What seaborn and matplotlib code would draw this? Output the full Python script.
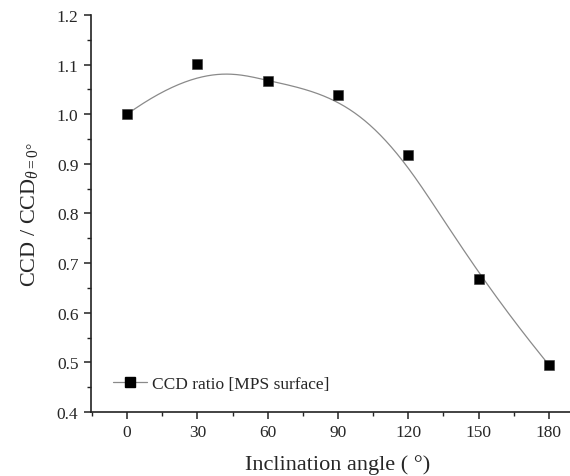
import numpy as np
import pandas as pd
import matplotlib
matplotlib.use("Agg")
import matplotlib.pyplot as plt
from matplotlib.lines import Line2D
from matplotlib.ticker import MultipleLocator
import seaborn as sns

# Measured CCD ratio versus inclination angle
angles = [0, 30, 60, 90, 120, 150, 180]
ccd_ratio = [1.000, 1.101, 1.067, 1.039, 0.917, 0.668, 0.495]
x_ticks = [0, 30, 60, 90, 120, 150, 180]
y_ticks = [0.4, 0.5, 0.6, 0.7, 0.8, 0.9, 1.0, 1.1, 1.2]
series_label = "CCD ratio [MPS surface]"


def bspline_curve(px, py, degree=3, n=400):
    """Clamped B-spline using the data points as control points."""
    pts = np.column_stack([px, py]).astype(float)
    m = len(pts)
    inner = np.arange(1, m - degree)
    knots = np.concatenate([np.zeros(degree + 1), inner,
                            np.full(degree + 1, m - degree)]).astype(float)
    t = np.linspace(0, m - degree, n)
    t[-1] -= 1e-9

    def basis(i, k, tt):
        if k == 0:
            return ((knots[i] <= tt) & (tt < knots[i + 1])).astype(float)
        out = np.zeros_like(tt)
        d1 = knots[i + k] - knots[i]
        d2 = knots[i + k + 1] - knots[i + 1]
        if d1 > 0:
            out += (tt - knots[i]) / d1 * basis(i, k - 1, tt)
        if d2 > 0:
            out += (knots[i + k + 1] - tt) / d2 * basis(i + 1, k - 1, tt)
        return out

    B = np.column_stack([basis(i, degree, t) for i in range(m)])
    curve = B @ pts
    return curve[:, 0], curve[:, 1]


cx, cy = bspline_curve(angles, ccd_ratio)
points = pd.DataFrame({"angle": angles, "ratio": ccd_ratio})
smooth = pd.DataFrame({"angle": cx, "ratio": cy})

sns.set_style("ticks")
plt.rcParams["font.family"] = ["Liberation Serif", "DejaVu Serif"]
plt.rcParams["mathtext.fontset"] = "custom"
plt.rcParams["mathtext.rm"] = "Liberation Serif"
plt.rcParams["mathtext.it"] = "Liberation Serif:italic"

fig = plt.figure(figsize=(5.70, 4.77), dpi=100)
ax = fig.add_axes([0.1596, 0.1342, 0.865, 0.8323])

sns.lineplot(data=smooth, x="angle", y="ratio", ax=ax, color="#8a8a8a",
             linewidth=0.9, sort=False, estimator=None)
sns.scatterplot(data=points, x="angle", y="ratio", ax=ax, marker="s",
                color="black", s=62, edgecolor="#333333", linewidth=0.4,
                zorder=3)

ax.set_xlim(-15.4, 195)
ax.set_ylim(0.4, 1.2)
ax.set_xticks(x_ticks)
ax.set_yticks(y_ticks)
ax.xaxis.set_minor_locator(MultipleLocator(15))
ax.yaxis.set_minor_locator(MultipleLocator(0.05))
ax.set_yticklabels([f"{v:.1f}" for v in y_ticks])

for side in ("top", "right"):
    ax.spines[side].set_visible(False)
for side in ("left", "bottom"):
    ax.spines[side].set_linewidth(1.2)
    ax.spines[side].set_color("#222222")

ax.tick_params(which="major", direction="out", length=5, width=1.1,
               color="#222222", labelsize=12.5, pad=4)
ax.tick_params(which="minor", direction="out", length=3, width=1.0,
               color="#222222")

ax.set_xlabel("Inclination angle ( °)", fontsize=16, labelpad=10)
ax.set_ylabel(r"CCD / CCD$_{\mathit{\theta}=0°}$", fontsize=16, labelpad=12)

handle = Line2D([], [], color="#8a8a8a", linewidth=0.9, marker="s",
                markersize=7, markerfacecolor="black",
                markeredgecolor="black")
ax.legend([handle], [series_label], loc="lower left", frameon=False,
          fontsize=12.5, handlelength=2.0, handletextpad=0.3,
          bbox_to_anchor=(0.012, 0.012))

fig.savefig("out.png", dpi=100)
